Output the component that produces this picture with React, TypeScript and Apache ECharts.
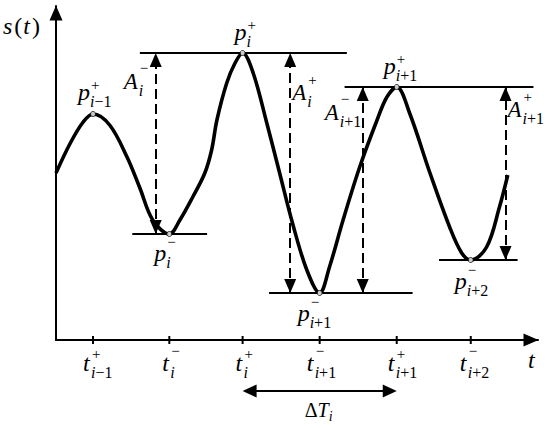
import React, { useEffect, useRef } from 'react';
import * as echarts from 'echarts';

// ---- data (x in tick units, y in value units) ----
const curveX = [0, 0.19, 0.36, 0.49, 0.71, 0.94, 1.11, 1.28, 1.5, 1.64, 1.81, 1.97, 2.06, 2.13, 2.26, 2.37, 2.47, 2.61, 2.79, 2.96, 3.13, 3.32, 3.49, 3.62, 3.8, 4.02, 4.25, 4.38, 4.51, 4.68, 4.95, 5.21, 5.37, 5.49, 5.7, 5.87, 5.98];
const curveY = [167, 197, 218, 226, 215, 183, 152, 120, 106, 120, 143, 167, 190, 220, 257, 277, 287, 267, 217, 167, 117, 70, 47, 73, 120, 173, 220, 243, 253, 227, 167, 113, 87, 80, 93, 133, 165];

const extremaX = [0.49, 1.5, 2.47, 3.49, 4.51, 5.49];
const extremaY = [226, 106, 287, 47, 253, 80];
const extremaSup = ['+', '−', '+', '−', '+', '−'];
const extremaSub = ['i−1', 'i', 'i', 'i+1', 'i+1', 'i+2'];

const tickX = [0.49, 1.5, 2.47, 3.49, 4.51, 5.49];
const tickSup = ['+', '−', '+', '−', '+', '−'];
const tickSub = ['i−1', 'i', 'i', 'i+1', 'i+1', 'i+2'];

const guideY = [287, 253, 106, 47, 80];
const guideFrom = [1.11, 3.82, 1.01, 2.82, 5.07];
const guideTo = [3.85, 6.32, 2.0, 4.72, 6.11];

const ampX = [1.32, 3.1, 4.06, 5.95];
const ampLow = [106, 47, 47, 80];
const ampHigh = [287, 287, 253, 253];
const ampSup = ['−', '+', '−', '+'];
const ampSub = ['i', 'i', 'i+1', 'i+1'];

const spanStartTick = 2;
const spanEndTick = 4;

// ---- layout offsets (pixels) ----
const extremaDx = [-15, -15, -8, -22, -13, -16];
const extremaDy = [-14, 27, -13, 28, -13, 29];
const tickDx = [-10, -7, -7, -13, -9, -11];
const ampDx = [-32, 2, -38, 2];
const ampDy = [36, 47, 33, 30];

const FONT = 'Liberation Serif, Times New Roman, serif';

function mathLabel(left: number, baseline: number, base: string, sup: string, sub: string, kind: string) {
  const cfg = kind === 'A'
    ? { size: 23, supDx: 16, subDx: 15, supPlus: 20, supMinus: 21 }
    : kind === 't'
      ? { size: 24, supDx: 9, subDx: 8, supPlus: 17, supMinus: 20 }
      : { size: 24, supDx: 13, subDx: 12, supPlus: 15, supMinus: 19 };
  const els: any[] = [];
  els.push({
    type: 'text', x: left, y: baseline - 0.34 * cfg.size, silent: true, z: 50,
    style: { text: base, fontFamily: FONT, fontSize: cfg.size, fontStyle: 'italic', fill: '#000', align: 'left', verticalAlign: 'middle' },
  });
  if (sup) {
    els.push({
      type: 'text', x: left + cfg.supDx, y: baseline - (sup === '+' ? cfg.supPlus : cfg.supMinus), silent: true, z: 50,
      style: { text: sup, fontFamily: FONT, fontSize: 15, fill: '#000', align: 'left', verticalAlign: 'middle' },
    });
  }
  if (sub) {
    const txt = '{a|' + sub[0] + '}' + (sub.length > 1 ? '{b|' + sub.slice(1) + '}' : '');
    els.push({
      type: 'text', x: left + cfg.subDx, y: baseline + 7 - 0.34 * 16, silent: true, z: 50,
      style: {
        text: txt, align: 'left', verticalAlign: 'middle',
        rich: {
          a: { fontFamily: FONT, fontSize: 16, fontStyle: 'italic', fill: '#000' },
          b: { fontFamily: FONT, fontSize: 16, fill: '#000' },
        },
      },
    });
  }
  return els;
}

export default function App() {
  const ref = useRef<HTMLDivElement>(null);
  useEffect(() => {
    if (!ref.current) return;
    const chart = echarts.init(ref.current, null, { renderer: 'svg' });
    const axisLine = (sym: number[]) => ({
      show: true, onZero: false,
      lineStyle: { color: '#000', width: 2 },
      symbol: ['none', 'triangle'], symbolSize: sym, symbolOffset: [0, -7],
    });
    chart.setOption({
      animation: false,
      backgroundColor: '#fff',
      grid: { left: 56, right: 12, top: 6, bottom: 88 },
      xAxis: {
        type: 'value', min: 0, max: 6.38,
        axisLine: axisLine([13, 15]), axisTick: { show: false }, axisLabel: { show: false }, splitLine: { show: false },
      },
      yAxis: {
        type: 'value', min: 0, max: 334,
        axisLine: axisLine([13, 15]), axisTick: { show: false }, axisLabel: { show: false }, splitLine: { show: false },
      },
      series: [
        {
          type: 'line', data: curveX.map((x, i) => [x, curveY[i]]),
          smooth: 0.35, symbol: 'none', z: 3,
          lineStyle: { color: '#000', width: 3.6 },
          markLine: {
            silent: true, symbol: ['none', 'none'], label: { show: false },
            lineStyle: { type: 'solid', color: '#000', width: 2 },
            data: guideY.map((y, i) => [{ coord: [guideFrom[i], y] }, { coord: [guideTo[i], y] }]),
          },
        },
        {
          type: 'scatter', data: extremaX.map((x, i) => [x, extremaY[i]]),
          symbol: 'circle', symbolSize: 5, z: 6,
          itemStyle: { color: '#fff', borderColor: '#000', borderWidth: 1 },
          markLine: {
            silent: true, symbol: ['triangle', 'triangle'], symbolSize: [12, 14], symbolOffset: [[0, 7], [0, 7]],
            label: { show: false },
            lineStyle: { type: [10, 5], color: '#000', width: 2 },
            data: ampX.map((x, i) => [{ coord: [x, ampLow[i]] }, { coord: [x, ampHigh[i]] }]),
          },
        },
      ],
    });

    const toPx = (x: number, y: number) => chart.convertToPixel({ xAxisIndex: 0, yAxisIndex: 0 }, [x, y]) as number[];
    const g: any[] = [];
    const o = toPx(0, 0);
    tickX.forEach((x, i) => {
      const p = toPx(x, 0);
      g.push({ type: 'line', silent: true, z: 50, shape: { x1: p[0], y1: p[1] - 4, x2: p[0], y2: p[1] + 4 }, style: { stroke: '#000', lineWidth: 2 } });
      g.push(...mathLabel(p[0] + tickDx[i], p[1] + 31, 't', tickSup[i], tickSub[i], 't'));
    });
    extremaX.forEach((x, i) => {
      const p = toPx(x, extremaY[i]);
      g.push(...mathLabel(p[0] + extremaDx[i], p[1] + extremaDy[i], 'p', extremaSup[i], extremaSub[i], 'p'));
    });
    ampX.forEach((x, i) => {
      const p = toPx(x, ampHigh[i]);
      g.push(...mathLabel(p[0] + ampDx[i], p[1] + ampDy[i], 'A', ampSup[i], ampSub[i], 'A'));
    });
    g.push({
      type: 'text', x: o[0] - 53, y: o[1] - 306 - 0.34 * 24, silent: true, z: 50,
      style: {
        text: '{i|s}{r|(}{i|t}{r|)}', align: 'left', verticalAlign: 'middle',
        rich: {
          i: { fontFamily: FONT, fontSize: 24, fontStyle: 'italic', fill: '#000', padding: [0, 2, 0, 0] },
          r: { fontFamily: FONT, fontSize: 24, fill: '#000', padding: [0, 1, 0, 0] },
        },
      },
    });
    g.push({
      type: 'text', x: o[0] + 472, y: o[1] + 28 - 0.34 * 24, silent: true, z: 50,
      style: { text: 't', fontFamily: FONT, fontSize: 24, fontStyle: 'italic', fill: '#000', align: 'left', verticalAlign: 'middle' },
    });
    const a = toPx(tickX[spanStartTick], 0);
    const b = toPx(tickX[spanEndTick], 0);
    const ay = a[1] + 51;
    g.push({ type: 'line', silent: true, z: 50, shape: { x1: a[0] + 8, y1: ay, x2: b[0] - 8, y2: ay }, style: { stroke: '#000', lineWidth: 2 } });
    g.push({ type: 'polygon', silent: true, z: 50, shape: { points: [[a[0], ay], [a[0] + 14, ay - 6.5], [a[0] + 14, ay + 6.5]] }, style: { fill: '#000' } });
    g.push({ type: 'polygon', silent: true, z: 50, shape: { points: [[b[0], ay], [b[0] - 14, ay - 6.5], [b[0] - 14, ay + 6.5]] }, style: { fill: '#000' } });
    const mid = (a[0] + b[0]) / 2;
    const dl = mid - 15;
    const db = a[1] + 77;
    g.push({
      type: 'text', x: dl, y: db - 0.34 * 20, silent: true, z: 50,
      style: {
        text: '{r|Δ}{i|T}', align: 'left', verticalAlign: 'middle',
        rich: {
          i: { fontFamily: FONT, fontSize: 20, fontStyle: 'italic', fill: '#000' },
          r: { fontFamily: FONT, fontSize: 20, fill: '#000' },
        },
      },
    });
    g.push({
      type: 'text', x: dl + 24, y: db + 4 - 0.34 * 14, silent: true, z: 50,
      style: { text: 'i', fontFamily: FONT, fontSize: 14, fontStyle: 'italic', fill: '#000', align: 'left', verticalAlign: 'middle' },
    });
    chart.setOption({ graphic: g });
    return () => chart.dispose();
  }, []);
  return <div ref={ref} style={{ position: 'fixed', left: 0, top: 0, width: 550, height: 428, background: '#fff' }} />;
}
